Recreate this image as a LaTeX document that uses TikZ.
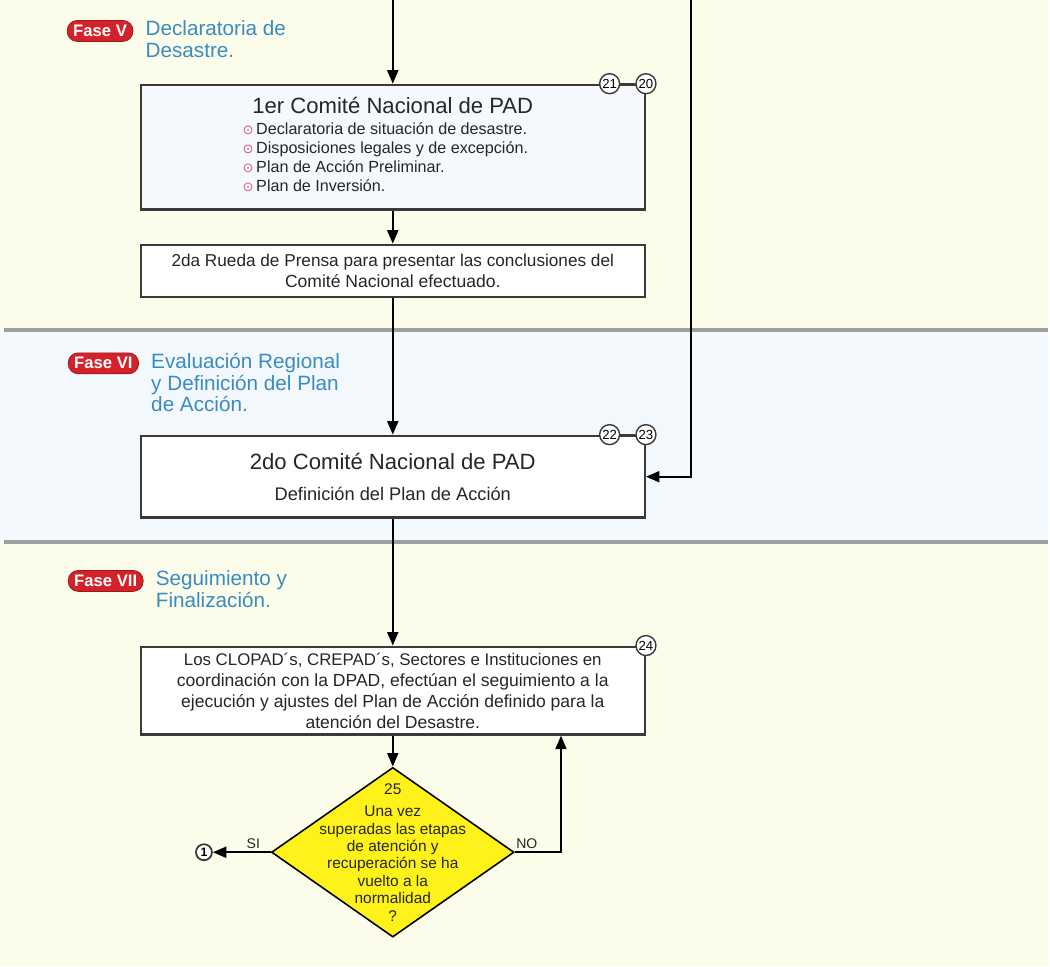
\documentclass[tikz,border=0pt]{standalone}
\usepackage{fontspec}
\setmainfont{Liberation Sans}
\newfontfamily\symfont{DejaVu Sans}
\usetikzlibrary{positioning,shapes.geometric,arrows.meta}
\definecolor{bgyellow}{HTML}{FBFCEA}
\definecolor{bgblue}{HTML}{F3F8FC}
\definecolor{faseblue}{HTML}{3A8CC0}
\definecolor{badgered}{HTML}{D3222A}
\definecolor{boxline}{HTML}{3A3A3A}
\definecolor{boxfill}{HTML}{F6F9FC}
\definecolor{bulletred}{HTML}{D0607A}
\definecolor{decyellow}{HTML}{FFF21A}
\newcommand{\itm}{{\symfont\color{bulletred}\fontsize{7.5}{7}\selectfont ⊙}\,}

\begin{document}
\begin{tikzpicture}[x=0.2mm, y=-0.2mm, node distance=2mm,
    box/.style = {draw=boxline, line width=1.3pt, fill=white, minimum width=101mm, inner sep=0pt, align=center, text=black!85},
    num/.style = {draw=boxline, circle, line width=0.8pt, fill=white, minimum size=4mm, inner sep=0pt, font=\fontsize{7.5}{8}\selectfont},
    badge/.style = {fill=badgered, draw=badgered!70!black, rounded corners=2mm, text=white, font=\fontsize{9.5}{10}\selectfont\bfseries, inner xsep=1.2mm, inner ysep=0pt, minimum height=4.2mm},
    fase/.style = {text=faseblue, align=left, font=\fontsize{11.8}{12.5}\selectfont, inner sep=0pt},
    decision/.style = {diamond, draw=black, fill=decyellow, line width=0.9pt, minimum width=48.6mm, minimum height=34mm, inner sep=0pt},
    lbl/.style = {font=\fontsize{8}{9}\selectfont, text=black!85, inner sep=1.5pt},
    arr/.style = {line width=1.1pt, -{Triangle[length=2.7mm, width=2.2mm]}}]

    % fondo y separadores
    \fill[bgyellow] (0,0) rectangle (1050,331);
    \fill[bgblue] (0,331) rectangle (1050,543);
    \fill[bgyellow] (0,543) rectangle (1050,968);
    \draw[gray!75, line width=2.2pt] (4,331) -- (1050,331);
    \draw[gray!75, line width=2.2pt] (4,543) -- (1050,543);
    \useasboundingbox (0,0) rectangle (1050,968);

    % Fase V
    \node[badge, anchor=west] (f5) at (67,31) {Fase V};
    \node[fase, right=2.4mm of f5.north east, anchor=north west] (t5) {Declaratoria de\\Desastre.};
    \coordinate (in5) at (393.5,0);
    \coordinate (inR) at (692,0);

    \node[box, fill=boxfill, minimum height=25mm] (box1) at (393.5,147.5)
        {{\fontsize{12.6}{14}\selectfont 1er Comité Nacional de PAD}\\[1.2mm]
         {\fontsize{9.2}{10.8}\selectfont\begin{tabular}{@{}l@{}}
            \itm Declaratoria de situación de desastre.\\
            \itm Disposiciones legales y de excepción.\\
            \itm Plan de Acción Preliminar.\\
            \itm Plan de Inversión.
         \end{tabular}\hspace*{3mm}}};
    \node[num] (c20) at (box1.north east) {20};
    \node[num, left=3mm of c20] (c21) {21};
    \draw[line width=0.8pt, boxline] (c21) -- (c20);

    \node[box, minimum height=10.4mm, below=6.6mm of box1] (prensa)
        {\fontsize{9.8}{10.8}\selectfont 2da Rueda de Prensa para presentar las conclusiones del\\Comité Nacional efectuado.};

    % Fase VI
    \node[badge, anchor=west] (f6) at (68,364) {Fase VI};
    \node[fase, right=2.4mm of f6.north east, anchor=north west] (t6) {Evaluación Regional\\y Definición del Plan\\de Acción.};

    \node[box, minimum height=16.4mm, below=27.4mm of prensa] (box2)
        {{\fontsize{12.6}{14}\selectfont 2do Comité Nacional de PAD}\\[2mm]
         {\fontsize{10.4}{12}\selectfont Definición del Plan de Acción}};
    \node[num] (c23) at (box2.north east) {23};
    \node[num, left=3mm of c23] (c22) {22};
    \draw[line width=0.8pt, boxline] (c22) -- (c23);

    % Fase VII
    \node[badge, anchor=west] (f7) at (68,582) {Fase VII};
    \node[fase, right=2.4mm of f7.north east, anchor=north west] (t7) {Seguimiento y\\Finalización.};

    \node[box, minimum height=17.6mm, below=25.4mm of box2] (box3)
        {\fontsize{9.6}{11}\selectfont Los CLOPAD´s, CREPAD´s, Sectores e Instituciones en\\
         coordinación con la DPAD, efectúan el seguimiento a la\\
         ejecución y ajustes del Plan de Acción definido para la\\
         atención del Desastre.};
    \node[num] (c24) at (box3.north east) {24};

    \node[decision, below=6.2mm of box3] (dec) {};
    \node[align=center, inner sep=0pt, text=black!85, font=\fontsize{8.8}{9.9}\selectfont] (dtxt) at (dec)
        {25\\[3pt]Una vez\\superadas las etapas\\de atención y\\recuperación se ha\\vuelto a la\\normalidad\\?};
    \node[num, minimum size=3.2mm, line width=1pt, font=\fontsize{7}{7}\selectfont\bfseries, left=11.6mm of dec] (c1) {1};

    % conectores
    \draw[arr] (in5) -- (in5 |- box1.north);
    \draw[arr] (inR) |- (box2.east);
    \draw[arr] (box1) -- (prensa);
    \draw[arr] (prensa) -- (box2);
    \draw[arr] (box2) -- (box3);
    \draw[arr] (box3) -- (dec);
    \draw[arr] (dec) -- node[lbl, above, pos=0.3] {SI} (c1);
    \draw[arr] (dec.east) -| node[lbl, above, pos=0.13] {NO} ([xshift=33.7mm]box3.south);
\end{tikzpicture}
\end{document}
